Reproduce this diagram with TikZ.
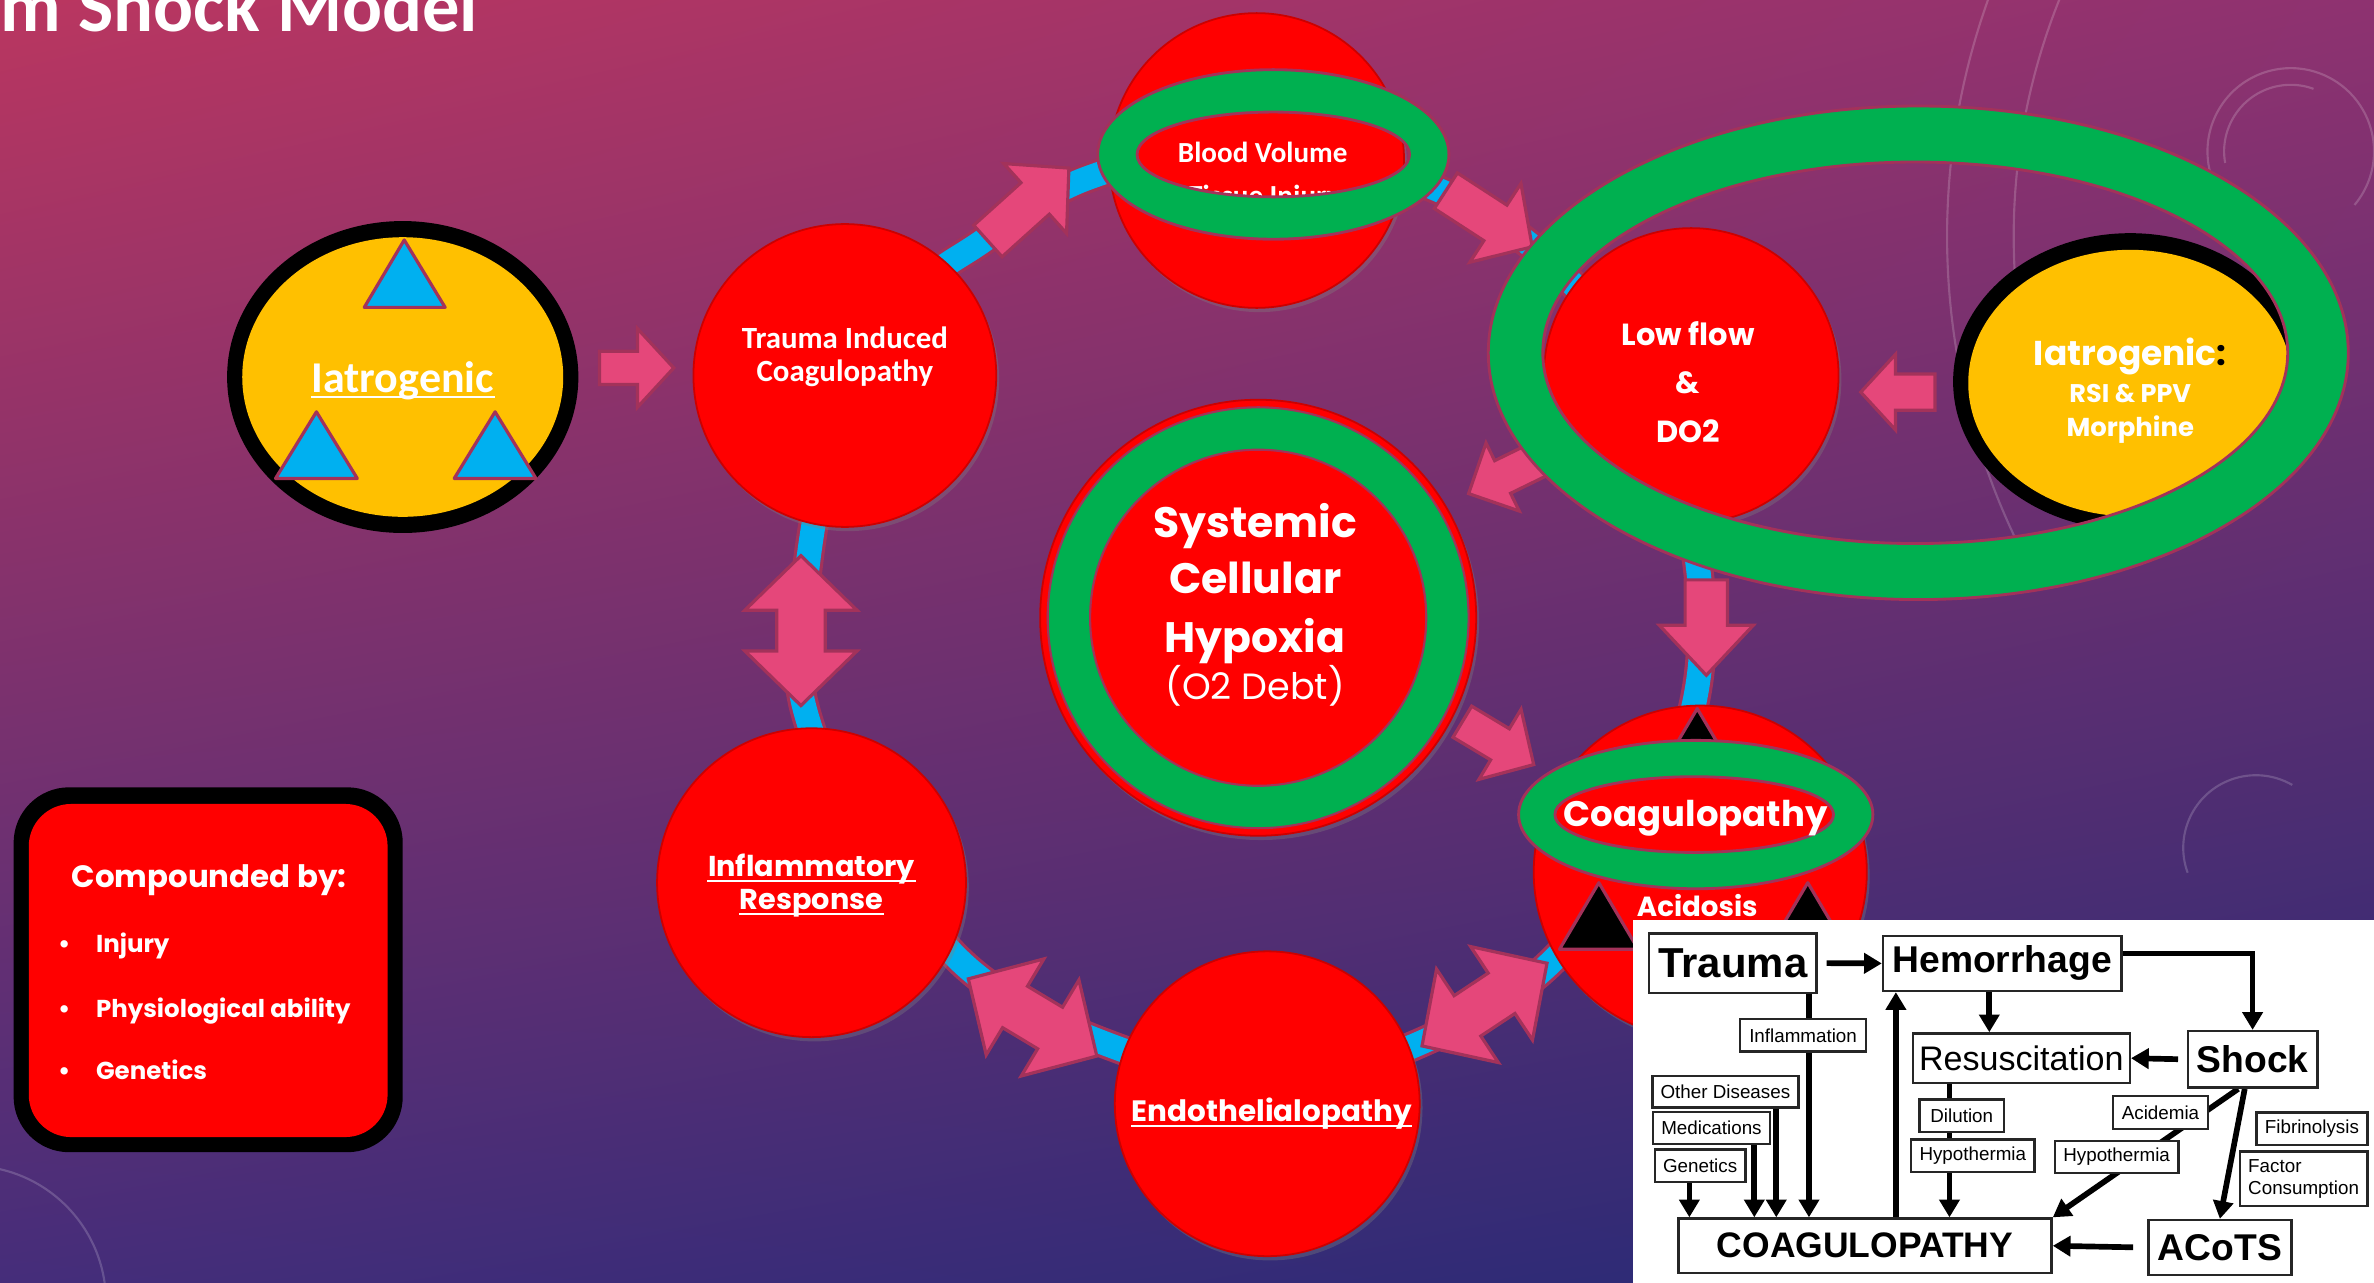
\documentclass[tikz,border=0pt]{standalone}
\usepackage{fontspec}
\setmainfont{Poppins}
\newfontfamily\pop{Poppins}
\newfontfamily\carl{Carlito}
\newfontfamily\libsans{Liberation Sans}
\usetikzlibrary{arrows.meta,shadows,shapes.geometric,calc,shadings}
\pgfdeclarelayer{fg}
\pgfsetlayers{main,fg}
\definecolor{bgA}{HTML}{BA3660}
\definecolor{bgB}{HTML}{8E3270}
\definecolor{bgC}{HTML}{452D7A}
\definecolor{bgD}{HTML}{242A74}
\definecolor{redc}{HTML}{FF0000}
\definecolor{grn}{HTML}{00B050}
\definecolor{mar}{HTML}{A3325A}
\definecolor{pnk}{HTML}{E5477A}
\definecolor{sky}{HTML}{00B0F0}
\definecolor{ylw}{HTML}{FFC000}
\tikzset{
 ball/.style={circle, fill=redc, draw=red!80!black, line width=0.5pt, inner sep=0pt,
   drop shadow={opacity=0.35, shadow xshift=0.8pt, shadow yshift=-1.2pt}},
 wt/.style={text=white, inner sep=0pt, anchor=base},
 parr/.style={draw=mar, fill=pnk, line width=0.9pt, line join=miter},
 gring/.style={draw=mar, fill=grn, line width=0.8pt, even odd rule},
 tri/.style={draw=mar, line width=0.9pt, line join=round},
 ibox/.style={draw=black!85, line width=0.7pt, fill=white, inner sep=0pt, text=black},
 ismall/.style={ibox, font=\libsans\fontsize{5.3}{6.3}\selectfont},
 ibig/.style={ibox, font=\libsans\bfseries\fontsize{10.5}{12}\selectfont},
 iarr/.style={draw=black, line width=1.6pt, -{Triangle[length=5pt,width=5.6pt]}},
 deco/.style={draw=white, opacity=0.18, line width=0.6pt},
}
% single block arrow: tipx, tipy, angle, length, headlen, headhalf, shafthalf
\newcommand\sarr[7]{\begin{scope}[shift={(#1,#2)},rotate=#3]
 \draw[parr] (0,0) -- (-#5,#6) -- (-#5,#7) -- (-#4,#7) -- (-#4,-#7) -- (-#5,-#7) -- (-#5,-#6) -- cycle;
 \end{scope}}
% double block arrow: cx, cy, angle
\newcommand\darr[3]{\begin{scope}[shift={(#1,#2)},rotate=#3]
 \draw[parr] (49.5,0) -- (13.5,37) -- (13.5,16) -- (-13.5,16) -- (-13.5,37) -- (-49.5,0)
   -- (-13.5,-37) -- (-13.5,-16) -- (13.5,-16) -- (13.5,-37) -- cycle;
 \end{scope}}
\begin{document}
\begin{tikzpicture}[x=0.015cm,y=-0.015cm]
\useasboundingbox (0,0) rectangle (1568,847);
\shade[shading=bilinear interpolation, upper left=bgA, upper right=bgB, lower left=bgC, lower right=bgD] (0,0) rectangle (1568,847);
% faint decorative dials
\draw[deco] (1750,156) ++(150:464) arc[start angle=150, end angle=210, radius=464];
\draw[deco] (1750,156) ++(150:420) arc[start angle=150, end angle=210, radius=420];
\draw[deco] (1513,100) ++(120:55) arc[start angle=120, end angle=400, radius=55];
\draw[deco] (1513,100) ++(170:44) arc[start angle=170, end angle=290, radius=44];
\draw[deco] (1490,560) ++(160:48) arc[start angle=160, end angle=300, radius=48];
\draw[deco] (-20,860) ++(270:90) arc[start angle=270, end angle=360, radius=90];
% title
\node[text=white, inner sep=0pt, anchor=base west, font=\carl\bfseries\fontsize{21}{24}\selectfont] (title) at (0,20.5) {m Shock Model};
% blue cycle band
\def\bandpath{plot[smooth cycle, tension=0.6] coordinates {(529,420) (548,300) (600,200) (648,160) (720,117) (830,95) (960,130) (1050,200) (1105,300) (1124,420) (1100,520) (1030,630) (940,688) (838,715) (732,690) (640,640) (570,550) (535,480)}}
\draw[mar, line width=8.6pt] \bandpath;
\draw[sky, line width=6.8pt] \bandpath;
% pink block arrows
\sarr{445}{243}{0}{49}{24}{26}{11}
\sarr{1229}{259}{180}{49}{23}{25}{12}
\sarr{706}{111}{42}{72}{30}{31}{14}
\sarr{1012}{163}{-33}{68}{29}{31}{14}
\sarr{970}{326}{-154}{55}{25}{25}{12}
\sarr{1127}{446}{-90}{63}{33}{31}{14}
\sarr{1013}{505}{-31}{55}{26}{27}{12}
\darr{529}{416.5}{90}
\darr{980.5}{663.5}{33.5}
\darr{682}{672}{-31}
% left iatrogenic
\node[ellipse, fill=black, minimum width=3.48cm, minimum height=3.09cm, inner sep=0pt] (iatL) at (266,249) {};
\node[ellipse, fill=ylw, minimum width=3.18cm, minimum height=2.77cm, inner sep=0pt] (iatLin) at (266,249) {};
\draw[tri, fill=sky] (267,158.5) -- (294,203) -- (240.6,203) -- cycle;
\draw[tri, fill=sky] (209,272) -- (236,316) -- (182,316) -- cycle;
\draw[tri, fill=sky] (327,272) -- (354,316) -- (300,316) -- cycle;
\node[wt, font=\carl\bfseries\fontsize{12.4}{14}\selectfont] (iatLt) at (266,259) {Iatrogenic};
\draw[white, line width=0.6pt] ([yshift=-1.3pt]iatLt.base west) -- ([yshift=-1.3pt]iatLt.base east);
% trauma induced coagulopathy
\node[ball, minimum size=3cm] (tic) at (558,248) {};
\node[wt, font=\carl\bfseries\fontsize{8.7}{10}\selectfont] (tic1) at (558,230) {Trauma Induced};
\node[wt, font=\carl\bfseries\fontsize{8.7}{10}\selectfont] (tic2) at (558,252) {Coagulopathy};
% blood volume
\node[ball, minimum size=2.92cm] (bv) at (830,106) {};
\node[wt, font=\carl\bfseries\fontsize{8.2}{10}\selectfont] (bvt2) at (835,136) {Tissue Injury};
\draw[gring] (841,102) ellipse [x radius=116, y radius=56] (841,102) ellipse [x radius=90, y radius=28];
\node[wt, font=\carl\bfseries\fontsize{8.2}{10}\selectfont] (bvt) at (834,107) {Blood Volume};
% low flow
\node[ball, minimum size=2.92cm] (lf) at (1117,248) {};
\node[wt, font=\pop\bfseries\fontsize{8.6}{10}\selectfont] (lf1) at (1115,228.5) {Low flow};
\node[wt, font=\pop\bfseries\fontsize{8.6}{10}\selectfont] (lf2) at (1115,260) {\&};
\node[wt, font=\pop\bfseries\fontsize{8.6}{10}\selectfont] (lf3) at (1115,292) {DO2};
% right iatrogenic
\node[ellipse, fill=black, minimum width=3.51cm, minimum height=2.94cm, inner sep=0pt] (iatR) at (1407,252) {};
\node[ellipse, fill=ylw, minimum width=3.21cm, minimum height=2.64cm, inner sep=0pt] (iatRin) at (1407,253) {};
\node[wt, font=\pop\bfseries\fontsize{9.7}{12}\selectfont] (iatR1) at (1407,241.5) {Iatrogenic\textcolor{black}{:}};
\node[wt, font=\pop\bfseries\fontsize{7.2}{9}\selectfont] (iatR2) at (1407,266) {RSI \& PPV};
\node[wt, font=\pop\bfseries\fontsize{7.3}{9}\selectfont] (iatR3) at (1407,288.5) {Morphine};
% big green ring
\draw[gring] (1267,233) ellipse [x radius=284, y radius=163] (1265,233) ellipse [x radius=246, y radius=126];
% central hypoxia
\node[ball, minimum size=4.32cm] (sch) at (831,408) {};
\draw[mar, fill=grn, line width=0.6pt] (sch.center) circle [radius=139];
\draw[mar, fill=redc, line width=0.6pt] (sch.center) circle [radius=111];
\node[wt, font=\pop\bfseries\fontsize{12}{15}\selectfont] (s1) at (829,355) {Systemic};
\node[wt, font=\pop\bfseries\fontsize{12}{15}\selectfont] (s2) at (829,392) {Cellular};
\node[wt, font=\pop\bfseries\fontsize{12}{15}\selectfont] (s3) at (829,431) {Hypoxia};
\node[wt, font=\pop\fontsize{10.3}{13}\selectfont] (s4) at (829,462) {(O2 Debt)};
% coagulopathy
\node[ball, minimum size=3.3cm] (cg) at (1123,576) {};
\draw[tri, fill=black] (1121,468) -- (1147,512) -- (1095,512) -- cycle;
\draw[gring] (1120,538) ellipse [x radius=117, y radius=49] (1119,538) ellipse [x radius=92, y radius=25];
\node[wt, font=\pop\bfseries\fontsize{10}{12}\selectfont] (cgt) at (1120,546) {Coagulopathy};
\draw[tri, fill=black] (1056,583) -- (1082,627) -- (1030,627) -- cycle;
\draw[tri, fill=black] (1194,583) -- (1220,627) -- (1168,627) -- cycle;
\node[wt, font=\pop\bfseries\fontsize{7.8}{10}\selectfont] (acid) at (1121,605) {Acidosis};
% inflammatory response
\node[ball, minimum size=3.06cm] (inf) at (536,583) {};
\node[wt, font=\pop\bfseries\fontsize{8.1}{10}\selectfont] (inf1) at (536,579) {Inflammatory};
\node[wt, font=\pop\bfseries\fontsize{8.1}{10}\selectfont] (inf2) at (536,601) {Response};
\draw[white, line width=0.6pt] ([yshift=-1.2pt]inf1.base west) -- ([yshift=-1.2pt]inf1.base east);
\draw[white, line width=0.6pt] ([yshift=-1.2pt]inf2.base west) -- ([yshift=-1.2pt]inf2.base east);
% endothelialopathy
\node[ball, minimum size=3.02cm] (endo) at (837,729) {};
\node[wt, font=\pop\bfseries\fontsize{8.3}{11}\selectfont] (endot) at (840,741) {Endothelialopathy};
\draw[white, line width=0.6pt] ([yshift=-1.2pt]endot.base west) -- ([yshift=-1.2pt]endot.base east);
% compounded by box
\node[rectangle, rounded corners=0.55cm, fill=black, minimum width=3.855cm, minimum height=3.615cm, inner sep=0pt] (cbox) at (137.5,640.5) {};
\node[rectangle, rounded corners=0.42cm, fill=redc, minimum width=3.555cm, minimum height=3.3cm, inner sep=0pt] (cboxin) at (137.5,641) {};
\node[wt, font=\pop\bfseries\fontsize{8.7}{11}\selectfont] (cb0) at (138,586) {Compounded by:};
\node[wt, anchor=base west, font=\pop\bfseries\fontsize{6.9}{9}\selectfont] (cb1) at (38,629) {\makebox[0.375cm][l]{\textbullet}Injury};
\node[wt, anchor=base west, font=\pop\bfseries\fontsize{6.9}{9}\selectfont] (cb2) at (38,672) {\makebox[0.375cm][l]{\textbullet}Physiological ability};
\node[wt, anchor=base west, font=\pop\bfseries\fontsize{6.9}{9}\selectfont] (cb3) at (38,713) {\makebox[0.375cm][l]{\textbullet}Genetics};
% inset figure
\node[fill=white, minimum width=7.35cm, minimum height=3.6cm, inner sep=0pt, anchor=north west] (inset) at (1078,607) {};
\begin{pgfonlayer}{fg}
\node[ibox, font=\libsans\bfseries\fontsize{11.8}{13}\selectfont, minimum width=1.66cm, minimum height=0.588cm] (trauma) at (1144.5,636.1) {Trauma};
\node[ibig, minimum width=2.361cm, minimum height=0.545cm] (hem) at (1322.4,636.3) {Hemorrhage};
\node[ismall, minimum width=1.247cm, minimum height=0.321cm] (infl) at (1190.9,683.8) {Inflammation};
\node[ibox, font=\libsans\fontsize{9.6}{11}\selectfont, minimum width=2.15cm, minimum height=0.489cm] (resus) at (1335,698.9) {Resuscitation};
\node[ibig, minimum width=1.284cm, minimum height=0.56cm] (shock) at (1487.8,699.7) {Shock};
\node[ismall, minimum width=1.449cm, minimum height=0.315cm] (od) at (1139.6,721) {Other Diseases};
\node[ismall, minimum width=1.163cm, minimum height=0.318cm] (med) at (1130.4,744.9) {Medications};
\node[ismall, minimum width=0.899cm, minimum height=0.321cm] (gen) at (1122.9,769.9) {Genetics};
\node[ismall, minimum width=0.837cm, minimum height=0.324cm] (dil) at (1295.7,737) {Dilution};
\node[ismall, minimum width=1.223cm, minimum height=0.324cm] (hypl) at (1303,763.4) {Hypothermia};
\node[ismall, minimum width=0.941cm, minimum height=0.324cm] (acdm) at (1427,734.8) {Acidemia};
\node[ismall, minimum width=1.223cm, minimum height=0.317cm] (hypr) at (1398,764) {Hypothermia};
\node[ismall, minimum width=1.097cm, minimum height=0.32cm] (fib) at (1527,745.6) {Fibrinolysis};
\node[ismall, align=left, minimum width=1.262cm, minimum height=0.539cm] (fac) at (1521.5,778.6) {Factor\\Consumption};
\node[ibig, font=\libsans\bfseries\fontsize{10}{12}\selectfont, minimum width=3.696cm, minimum height=0.539cm] (coag) at (1231.8,822.8) {COAGULOPATHY};
\node[ibig, minimum width=1.415cm, minimum height=0.545cm] (acots) at (1466.2,824) {ACoTS};
\end{pgfonlayer}
\coordinate (xa) at (1313.9,0);
\coordinate (xb) at (1194.8,0);
\coordinate (xc) at (1173.2,0);
\coordinate (xd) at (1158.7,0);
\coordinate (xe) at (1115.8,0);
\coordinate (xf) at (1252.2,0);
\coordinate (xg) at (1287.6,0);
\coordinate (xh) at (1478.3,0);
\coordinate (xi) at (1482.6,0);
\draw[iarr, shorten <=2.5pt] (trauma.east) -- (hem.west);
\draw[iarr] ([yshift=2.8pt]hem.east) -| (shock.north);
\draw[iarr] (hem.south -| xa) -- (resus.north -| xa);
\draw[iarr, shorten <=2.4pt] (shock.west) -- (resus.east);
\draw[iarr] (trauma.south -| xb) -- (coag.north -| xb);
\draw[iarr] (od.south -| xc) -- (coag.north -| xc);
\draw[iarr] (med.south -| xd) -- (coag.north -| xd);
\draw[iarr] (gen.south -| xe) -- (coag.north -| xe);
\draw[iarr] (coag.north -| xf) -- (hem.south -| xf);
\draw[iarr] (resus.south -| xg) -- (coag.north -| xg);
\draw[iarr] (shock.south -| xh) -- (coag.north east);
\draw[iarr] (shock.south -| xi) -- (acots.north);
\draw[iarr, shorten <=4pt] (acots.west) -- (coag.east);
\end{tikzpicture}
\end{document}
